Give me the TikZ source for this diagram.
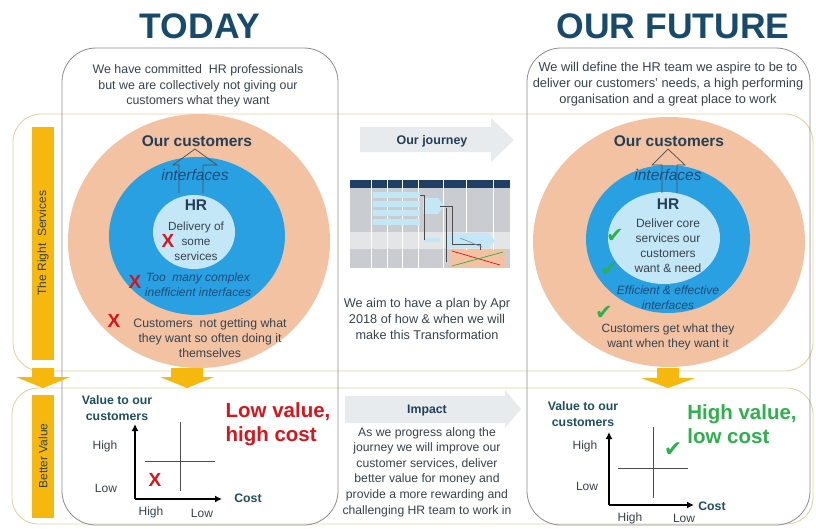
\documentclass[tikz,border=0pt]{standalone}
\usepackage{fontspec}
\setmainfont{Liberation Sans}
\newfontfamily\symfont{DejaVu Sans}
\usetikzlibrary{arrows.meta}
\definecolor{peach}{HTML}{F2C2A3}
\definecolor{midblue}{HTML}{28A0E2}
\definecolor{lightblue}{HTML}{C4E7F8}
\definecolor{gold}{HTML}{F6B70F}
\definecolor{headblue}{HTML}{184A6C}
\definecolor{txt}{HTML}{37434D}
\definecolor{bandcol}{HTML}{E2D3A6}
\definecolor{colgray}{HTML}{8C8C8C}
\definecolor{xred}{HTML}{D9141B}
\definecolor{okgreen}{HTML}{2DB14B}
\definecolor{arrgray}{HTML}{E7EBEE}
\definecolor{navy}{HTML}{243E55}
\definecolor{ital}{HTML}{1E4D78}
\definecolor{ganttnavy}{HTML}{1F3F66}
\definecolor{ganttgray}{HTML}{C9CDD1}
\definecolor{ganttlight}{HTML}{E3E5E7}
\definecolor{tealtxt}{HTML}{1F4F5F}
\begin{document}
\begin{tikzpicture}[x=1pt,y=-1pt,
  every node/.style={inner sep=0pt, outer sep=0pt},
  heading/.style={font=\fontsize{35.5}{37}\selectfont\bfseries, text=headblue},
  body/.style={font=\fontsize{12.4}{15.6}\selectfont, text=txt, align=center},
  midtext/.style={font=\fontsize{12.7}{15.8}\selectfont, text=txt, align=center},
  custtitle/.style={font=\fontsize{15.5}{17}\selectfont\bfseries, text=navy},
  hrtitle/.style={font=\fontsize{15.5}{17}\selectfont\bfseries, text=navy},
  itxt/.style={font=\fontsize{15.5}{17}\selectfont\itshape, text=ital},
  smallital/.style={font=\fontsize{12}{15}\selectfont\itshape, text=ital, align=center},
  redx/.style={font=\fontsize{19}{20}\selectfont\bfseries, text=xred},
  okmark/.style={font=\symfont\fontsize{21}{22}\selectfont, text=okgreen},
  barlabel/.style={font=\fontsize{12}{13}\selectfont, text=txt, rotate=90},
  axislabel/.style={font=\fontsize{12.3}{15.5}\selectfont\bfseries, text=tealtxt, align=center},
  ticklabel/.style={font=\fontsize{12}{14}\selectfont, text=txt},
  bigred/.style={font=\fontsize{20.5}{24}\selectfont\bfseries, text=xred, align=left},
  biggreen/.style={font=\fontsize{20.5}{24}\selectfont\bfseries, text=okgreen, align=left},
  bandframe/.style={draw=bandcol, line width=0.9pt},
  colframe/.style={draw=colgray, line width=0.8pt, rounded corners=34},
  axis/.style={line width=2.2pt, black, -{Latex[length=7pt,width=7pt]}},
  quad/.style={draw=black!70, line width=0.6pt},
  hollow/.style={draw=black!70, line width=0.7pt},
  goldarr/.style={fill=gold},
  grayarr/.style={fill=arrgray}
]
\useasboundingbox (0,0) rectangle (816,528);
\fill[white] (0,0) rectangle (816,528);

% ---------- bands ----------
\draw[bandframe, rounded corners=28] (13,114) rectangle (813,371);
\draw[bandframe, rounded corners=26] (12,388) rectangle (813,524);

% ---------- columns ----------
\draw[colframe] (62,48) rectangle (338,525);
\draw[colframe] (527,48) rectangle (810,525);

% ---------- headings ----------
\node[heading] (today) at (200,26) {TODAY};
\node[heading] (future) at (673,26) {OUR FUTURE};

\node[body] (todaytop) at (198,86) {We have committed\ \ HR professionals\\but we are collectively not giving our\\customers what they want};
\node[body, font=\fontsize{12.8}{15.8}\selectfont] (futuretop) at (668,84) {We will define the HR team we aspire to be to\\deliver our customers' needs, a high performing\\organisation and a great place to work};

% ---------- yellow side bars ----------
\fill[gold] (32,127) rectangle (54,360);
\node[barlabel] (rs) at (43,243) {The Right\ \ Services};
\fill[gold] (32,395) rectangle (54,518);
\node[barlabel] (bv) at (43,456) {Better Value};

% ---------- gold down arrows ----------
\fill[goldarr, shift={(43,368)}] (-11,0) -- (11,0) -- (11,9) -- (27,9) -- (0,20) -- (-27,9) -- (-11,9) -- cycle;
\fill[goldarr, shift={(187,368)}] (-16,0) -- (16,0) -- (16,9) -- (27,9) -- (0,20) -- (-27,9) -- (-16,9) -- cycle;
\fill[goldarr, shift={(668,368)}] (-11,0) -- (11,0) -- (11,10) -- (27,10) -- (0,20) -- (-27,10) -- (-11,10) -- cycle;

% ---------- TODAY circles ----------
\fill[peach] (199,241) ellipse [x radius=131, y radius=127];
\fill[midblue] (197,236) ellipse [x radius=88, y radius=79];
\fill[lightblue] (194,232) ellipse [x radius=41, y radius=37];
\draw[hollow] (179,193) -- (179,165) -- (173,165) -- (195,149) -- (217,165) -- (203,165) -- (203,193);
\node[custtitle] (tcust) at (197,141) {Our customers};
\node[itxt] (tint) at (195,175) {interfaces};
\node[hrtitle] (thr) at (196,205) {HR};
\node[body, font=\fontsize{11.8}{15.2}\selectfont] (tdel) at (196,241) {Delivery of\\some\\services};
\node[redx] (tx1) at (168,241) {X};
\node[smallital] (tcomplex) at (198,285) {Too\ \ many complex\\inefficient interfaces};
\node[redx] (tx2) at (135,282) {X};
\node[body, font=\fontsize{12.3}{15.4}\selectfont] (tcustno) at (210,338) {Customers\ \ not getting what\\they want so often doing it\\themselves};
\node[redx] (tx3) at (114,321) {X};

% ---------- FUTURE circles ----------
\fill[peach] (669,242) ellipse [x radius=136, y radius=125];
\fill[midblue] (668,239) ellipse [x radius=82, y radius=74];
\fill[lightblue] (664,238) ellipse [x radius=56, y radius=46];
\draw[hollow] (662,193) -- (662,165) -- (652,165) -- (668,149) -- (685,165) -- (677,165) -- (677,193);
\node[custtitle] (fcust) at (669,141) {Our customers};
\node[itxt] (fint) at (668,175) {interfaces};
\node[hrtitle] (fhr) at (668,204) {HR};
\node[body, font=\fontsize{12}{15}\selectfont] (fdel) at (668,246) {Deliver core\\services our\\customers\\want \& need};
\node[okmark] (fc1) at (615,236) {✔};
\node[okmark] (fc2) at (609,270) {✔};
\node[smallital] (feff) at (668,298) {Efficient \& effective\\interfaces};
\node[okmark] (fc3) at (604,313) {✔};
\node[body, font=\fontsize{12}{15.2}\selectfont] (fget) at (668,337) {Customers get what they\\want when they want it};

% ---------- middle column top ----------
\fill[grayarr] (360,127) -- (491,127) -- (491,118) -- (514,140) -- (491,162) -- (491,152) -- (360,152) -- cycle;
\node[font=\fontsize{12.5}{14}\selectfont\bfseries, text=navy] (journey) at (432,141) {Our journey};

% gantt picture
\fill[ganttgray] (350,180) rectangle (510,268);
\fill[ganttnavy] (350,180) rectangle (510,188);
\fill[ganttgray] (350,188) rectangle (510,232);
\fill[ganttlight] (350,232) rectangle (510,249);
\fill[ganttgray] (350,249) rectangle (510,268);
\foreach \gx in {371,387,402,418,443,466,493} {\draw[white, line width=0.4pt] (\gx,180) -- (\gx,268);}
\foreach \gy in {192,201,210,219} {\fill[lightblue] (373,\gy) rectangle (420,\gy+6);}
\fill[lightblue] (423,198) -- (438,198) -- (444,206) -- (438,214) -- (423,214) -- cycle;
\fill[lightblue] (424,238) rectangle (440,242);
\fill[lightblue] (445,233) -- (488,233) -- (495,241) -- (488,248) -- (445,248) -- cycle;
\draw[black!70, line width=0.4pt] (420,195) -- (424,195) -- (424,240);
\draw[black!70, line width=0.4pt] (440,206) -- (452,206) -- (452,244) -- (480,244) -- (480,250);
\draw[black!70, line width=0.4pt] (446,208) -- (446,262);
\fill[peach] (449,250) rectangle (506,268);
\draw[xred, line width=0.7pt] (452,251) -- (500,265);
\draw[okgreen, line width=0.7pt] (452,266) -- (503,252);
\draw[ganttnavy!60, line width=0.6pt] (460,238) -- (482,247);

\node[midtext] (plan) at (427,319) {We aim to have a plan by Apr\\2018 of how \& when we will\\make this Transformation};

% ---------- middle column bottom ----------
\fill[grayarr] (345,396) -- (505,396) -- (505,390) -- (521,409) -- (505,428) -- (505,423) -- (345,423) -- cycle;
\node[font=\fontsize{12.3}{14}\selectfont\bfseries, text=navy] (impact) at (427,411) {Impact};
\node[midtext, font=\fontsize{12.2}{15.6}\selectfont] (impacttxt) at (427,472) {As we progress along the\\journey we will improve our\\customer services, deliver\\better value for money and\\provide a more rewarding and\\challenging HR team to work in};

% ---------- TODAY chart ----------
\node[axislabel] (tval) at (117,408) {Value to our\\customers};
\coordinate (torig) at (135,499);
\coordinate (ttop) at (135,424);
\coordinate (tright) at (222,499);
\draw[axis] (torig) -- (ttop);
\draw[axis] (torig) -- (tright);
\coordinate (tv1) at (180,422); \coordinate (tv2) at (180,491);
\coordinate (th1) at (145,461); \coordinate (th2) at (215,461);
\draw[quad] (tv1) -- (tv2);
\draw[quad] (th1) -- (th2);
\node[ticklabel] (thigh) at (105,446) {High};
\node[ticklabel] (tlow) at (106,488) {Low};
\node[ticklabel] (txhigh) at (151,512) {High};
\node[ticklabel] (txlow) at (202,513) {Low};
\node[axislabel] (tcost) at (248,498) {Cost};
\node[redx] (tx4) at (155,480) {X};
\node[bigred] (lowval) at (278,424) {Low value,\\high cost};

% ---------- FUTURE chart ----------
\node[axislabel] (fval) at (583,414) {Value to our\\customers};
\coordinate (forig) at (609,505);
\coordinate (ftop) at (609,432);
\coordinate (fright) at (694,505);
\draw[axis] (forig) -- (ftop);
\draw[axis] (forig) -- (fright);
\coordinate (fv1) at (653,427); \coordinate (fv2) at (653,498);
\coordinate (fh1) at (618,468); \coordinate (fh2) at (688,468);
\draw[quad] (fv1) -- (fv2);
\draw[quad] (fh1) -- (fh2);
\node[ticklabel] (fhigh) at (585,446) {High};
\node[ticklabel] (flow) at (587,486) {Low};
\node[ticklabel] (fxhigh) at (630,518) {High};
\node[ticklabel] (fxlow) at (684,518) {Low};
\node[axislabel] (fcost) at (712,506) {Cost};
\node[okmark, font=\symfont\fontsize{22}{23}\selectfont] (fc4) at (673,450) {✔};
\node[biggreen] (highval) at (742,424) {High value,\\low cost};
\end{tikzpicture}
\end{document}
